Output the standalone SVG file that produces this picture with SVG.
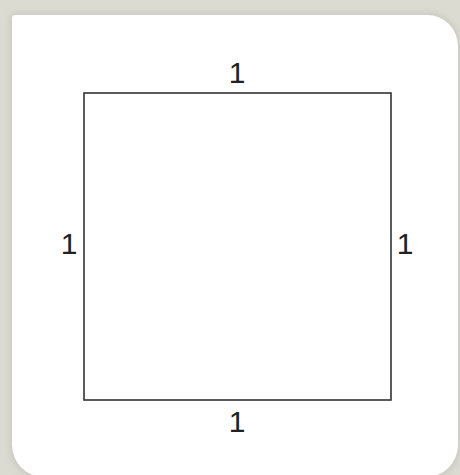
<svg xmlns="http://www.w3.org/2000/svg" width="460" height="475" viewBox="0 0 460 475">
  <defs>
    <filter id="sh" x="-10%" y="-10%" width="120%" height="120%">
      <feGaussianBlur stdDeviation="3"/>
    </filter>
    <style>
      .lbl { font-family: "Liberation Sans", Arial, sans-serif; font-size: 30px; fill: #222; text-anchor: middle; }
      .edge { stroke: #333; stroke-width: 1.6; fill: none; }
    </style>
  </defs>
  <rect x="0" y="0" width="460" height="475" fill="#dbdbd2"/>
  <path d="M10,19 Q10,13 16,13 L428,13 A32,32 0 0 1 460,45 L460,447 A32,32 0 0 1 428,479 L42,479 A32,32 0 0 1 10,447 Z" fill="#c9c9bf" filter="url(#sh)"/>
  <path d="M12,18 Q12,15 15,15 L427,15 A31,31 0 0 1 458,46 L458,445 A32,32 0 0 1 426,477 L44,477 A32,32 0 0 1 12,445 Z" fill="#ffffff"/>
  <g id="square">
    <rect class="edge" x="84" y="93" width="307" height="307"/>
  </g>
  <g id="connectors"></g>
  <g id="labels">
    <text id="top" class="lbl" x="237" y="83">1</text>
    <text id="left" class="lbl" x="69" y="254">1</text>
    <text id="right" class="lbl" x="405" y="254">1</text>
    <text id="bottom" class="lbl" x="237" y="432">1</text>
  </g>
</svg>
